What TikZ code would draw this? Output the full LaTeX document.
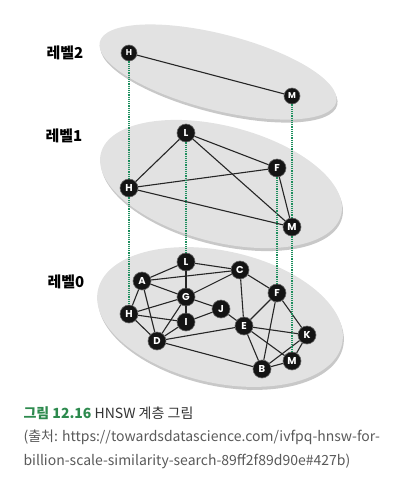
\documentclass[tikz,border=0pt]{standalone}
\usepackage{fontspec}
\setmainfont{Noto Sans CJK KR}
\newfontfamily\nodefont{Poppins}
\usetikzlibrary{positioning}

\definecolor{capgreen}{HTML}{2D8A4E}
\definecolor{dotgreen}{HTML}{1E8F5E}
\definecolor{plate}{HTML}{E2E2E2}
\definecolor{plateedge}{HTML}{C8C8C8}

\begin{document}
\begin{tikzpicture}[x=1pt, y=-1pt,
  vertex/.style={circle, fill=black!92, draw=black!60, line width=0.6pt,
    inner sep=0pt, minimum size=18pt, text=white,
    font=\nodefont\bfseries\fontsize{10}{10}\selectfont},
  small/.style={minimum size=16pt, font=\nodefont\bfseries\fontsize{8.5}{8.5}\selectfont},
  link/.style={draw=black!85, line width=1.1pt},
  drop/.style={draw=dotgreen, line width=1.4pt, dash pattern=on 1.2pt off 1pt},
  levellabel/.style={font=\bfseries\fontsize{15}{15}\selectfont}]

  \useasboundingbox (0,0) rectangle (414,480);

  % plates
  \fill[plateedge, shift={(219,75)}, rotate=-14.3] (0,0) ellipse [x radius=122pt, y radius=38pt];
  \fill[plate, shift={(218,72)}, rotate=-14.3] (0,0) ellipse [x radius=122pt, y radius=38pt];
  \fill[plateedge, shift={(222,187)}, rotate=-14.4] (0,0) ellipse [x radius=124pt, y radius=58pt];
  \fill[plate, shift={(221,184)}, rotate=-14.4] (0,0) ellipse [x radius=124pt, y radius=58pt];
  \fill[plateedge, shift={(221,320)}, rotate=-12.5] (0,0) ellipse [x radius=125pt, y radius=66pt];
  \fill[plate, shift={(220,317)}, rotate=-12.5] (0,0) ellipse [x radius=125pt, y radius=66pt];

  \node[levellabel] (lab2) at (65,53) {레벨2};
  \node[levellabel] (lab1) at (64,136) {레벨1};
  \node[levellabel] (lab0) at (66,282) {레벨0};

  % level 2
  \node[vertex,small] (h2) at (129,53) {H};
  \node[vertex,small] (m2) at (292,96) {M};
  \path[link] (h2) edge (m2);

  % level 1
  \node[vertex] (h1) at (129,188) {H};
  \node[vertex] (l1) at (186,133) {L};
  \node[vertex] (f1) at (277,168) {F};
  \node[vertex] (m1) at (292,227) {M};
  \path[link] (h1) edge (l1) edge (f1) edge (m1);
  \path[link] (l1) edge (f1) edge (m1);
  \path[link] (f1) edge (m1);

  % level 0
  \node[vertex] (l0) at (186,262) {L};
  \node[vertex] (c0) at (240,270) {C};
  \node[vertex] (a0) at (142,281) {A};
  \node[vertex] (g0) at (186,297) {G};
  \node[vertex] (f0) at (277,293) {F};
  \node[vertex] (j0) at (221,309) {J};
  \node[vertex] (h0) at (129,314) {H};
  \node[vertex] (i0) at (186,322) {I};
  \node[vertex] (e0) at (244,326) {E};
  \node[vertex] (k0) at (307,335) {K};
  \node[vertex] (d0) at (157,341) {D};
  \node[vertex] (m0) at (292,361) {M};
  \node[vertex] (b0) at (262,369) {B};
  \path[link] (l0) edge (c0) edge (g0) edge (a0);
  \path[link] (a0) edge (c0) edge (g0) edge (h0) edge (d0);
  \path[link] (g0) edge (c0) edge (j0) edge (i0) edge (d0) edge (h0);
  \path[link] (h0) edge (i0) edge (d0);
  \path[link] (i0) edge (d0) edge (j0);
  \path[link] (d0) edge (e0) edge (b0);
  \path[link] (j0) edge (e0);
  \path[link] (c0) edge (e0) edge (f0);
  \path[link] (f0) edge (e0) edge (b0) edge (k0);
  \path[link] (e0) edge (k0) edge (b0) edge (m0);
  \path[link] (k0) edge (m0) edge (b0);
  \path[link] (b0) edge (m0);

  % links between levels
  \path[drop] (h2) edge (h1) (h1) edge (h0);
  \path[drop] (m2) edge (m1) (m1) edge (m0);
  \path[drop] (l1) edge (l0);
  \path[drop] (f1) edge (f0);

  % caption
  \node[anchor=west, text=black!80, font=\fontsize{14}{16}\selectfont] (cap) at (20,413)
    {\textcolor{capgreen}{\bfseries 그림 12.16} HNSW 계층 그림};
  \node[anchor=west, text=black!65, font=\fontsize{14}{16}\selectfont] (src1) at (20,437)
    {(출처: https://towardsdatascience.com/ivfpq-hnsw-for-};
  \node[anchor=west, text=black!65, font=\fontsize{14}{16}\selectfont] (src2) at (20,461)
    {billion-scale-similarity-search-89ff2f89d90e\#427b)};
\end{tikzpicture}
\end{document}
